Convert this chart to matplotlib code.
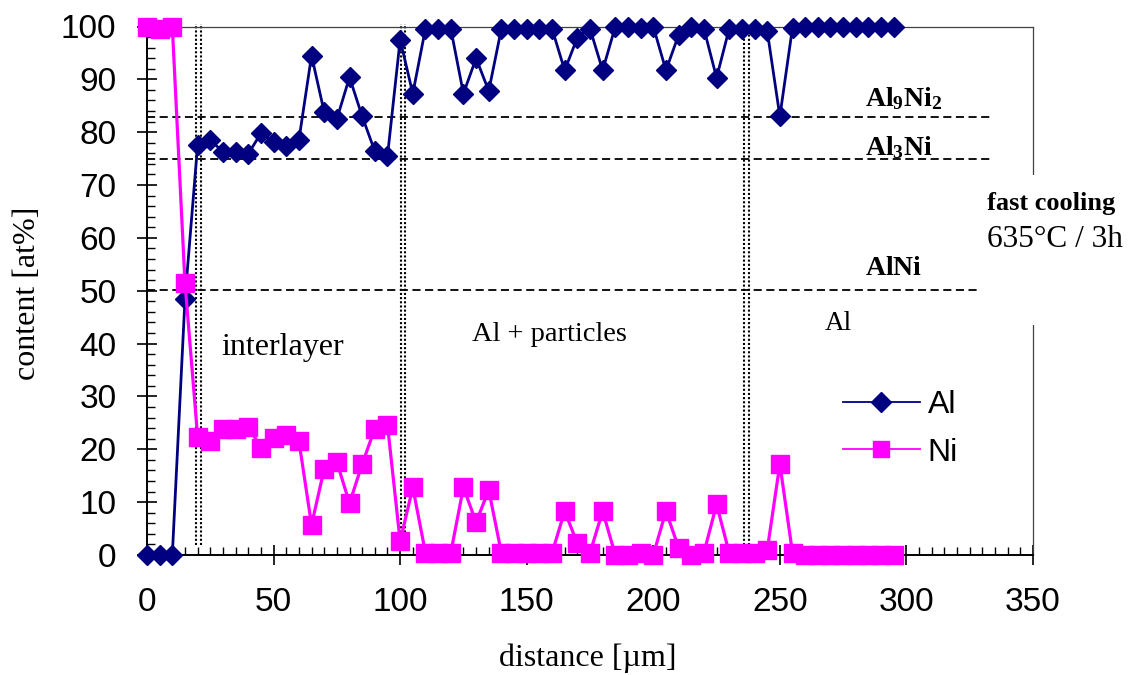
import matplotlib
matplotlib.use('Agg')
import matplotlib.pyplot as plt
from matplotlib.lines import Line2D
from matplotlib.patches import Rectangle
from matplotlib.ticker import MultipleLocator

plt.rcParams['font.family'] = ['Liberation Sans', 'DejaVu Sans']
plt.rcParams['mathtext.fontset'] = 'custom'
plt.rcParams['mathtext.rm'] = 'Liberation Serif'
plt.rcParams['mathtext.bf'] = 'Liberation Serif:bold'

# line scan, 5 um steps
distance = [0, 5, 10, 15, 20, 25, 30, 35, 40, 45, 50, 55, 60, 65, 70, 75, 80, 85, 90, 95,
            100, 105, 110, 115, 120, 125, 130, 135, 140, 145, 150, 155, 160, 165, 170, 175,
            180, 185, 190, 195, 200, 205, 210, 215, 220, 225, 230, 235, 240, 245, 250, 255,
            260, 265, 270, 275, 280, 285, 290, 295]
al = [0, 0, 0, 48.4, 77.6, 78.5, 76.3, 76.3, 75.9, 79.8, 78.1, 77.3, 78.5, 94.5, 83.8, 82.5,
      90.4, 83.0, 76.4, 75.5, 97.5, 87.3, 99.6, 99.6, 99.6, 87.3, 94.0, 87.8, 99.6, 99.6,
      99.6, 99.6, 99.6, 91.7, 97.9, 99.6, 91.7, 100, 99.9, 99.7, 100, 91.7, 98.4, 100, 99.6,
      90.3, 99.6, 99.6, 99.6, 99.2, 83.0, 99.8, 100, 100, 100, 100, 100, 100, 100, 100]
ni = [100, 99.5, 100, 51.5, 22.4, 21.5, 23.8, 23.8, 24.3, 20.3, 22.1, 22.8, 21.6, 5.7, 16.3,
      17.6, 9.8, 17.2, 23.9, 24.6, 2.6, 12.8, 0.4, 0.4, 0.4, 12.8, 6.2, 12.3, 0.4, 0.4, 0.4,
      0.4, 0.4, 8.3, 2.2, 0.4, 8.3, 0, 0, 0.4, 0, 8.3, 1.4, 0, 0.4, 9.6, 0.4, 0.4, 0.4, 0.9,
      17.2, 0.4, 0, 0, 0, 0, 0, 0, 0, 0]

# phase compositions (at% Al)
phase_names = [r'$\mathbf{Al_9Ni_2}$', r'$\mathbf{Al_3Ni}$', r'$\mathbf{AlNi}$']
phase_al = [82.8, 74.9, 50.1]
phase_label_y = [85.0, 75.6, 52.9]

# zone borders (pairs of dotted lines)
borders = [19.3, 21.4, 100.2, 102.1, 236.0, 238.0]

W, H = 1130, 675
fig = plt.figure(figsize=(W / 100, H / 100), dpi=100)
x0, x1, y0, y1 = 147, 1033, 555, 26.5
ax = fig.add_axes([x0 / W, 1 - y0 / H, (x1 - x0) / W, (y0 - y1) / H])

for b in borders:
    ax.plot([b, b], [1.8, 100.5], color='black', lw=1.5, ls=(0, (1, 1)),
            clip_on=False, zorder=2)
for v in phase_al:
    ax.plot([0, 333], [v, v], color='black', lw=1.3, ls=(0, (4.5, 2.5)), zorder=2)

ax.plot(distance, al, color='#000080', lw=2.0, marker='D', ms=10, mfc='#000080',
        mec='#000080', clip_on=False, zorder=4)
ax.plot(distance, ni, color='#FF00FF', lw=2.3, marker='s', ms=12.5, mfc='#FF00FF',
        mec='#FF00FF', clip_on=False, zorder=5)

ax.set_xlim(0, 350)
ax.set_ylim(0, 100)
ax.xaxis.set_major_locator(MultipleLocator(50))
ax.xaxis.set_minor_locator(MultipleLocator(5))
ax.yaxis.set_major_locator(MultipleLocator(10))
ax.yaxis.set_minor_locator(MultipleLocator(2))
ax.tick_params(which='major', direction='inout', length=14, width=1.2, labelsize=24)
ax.tick_params(which='minor', direction='in', length=6, width=1.0)
ax.tick_params(axis='y', which='major', pad=15)
ax.tick_params(axis='x', which='major', pad=16)
for s in ['left', 'bottom']:
    ax.spines[s].set_linewidth(1.4)
for s in ['top', 'right']:
    ax.spines[s].set_linewidth(0.9)
    ax.spines[s].set_color('#404040')

ax.set_xlabel('distance [µm]', family='Liberation Serif', fontsize=23)
ax.set_ylabel('content [at%]', family='Liberation Serif', fontsize=23)
ax.xaxis.set_label_coords(0.497, -0.168)
ax.yaxis.set_label_coords(-0.1185, 0.495)

serif = 'Liberation Serif'
ax.text(29.5, 37.8, 'interlayer', family=serif, fontsize=23)
ax.text(128.5, 40.4, 'Al + particles', family=serif, fontsize=20.5)
ax.text(267.9, 42.6, 'Al', family=serif, fontsize=19.5)
for name, yy in zip(phase_names, phase_label_y):
    ax.text(283.7, yy, name, fontsize=20)

handles = [Line2D([], [], color='#000080', lw=1.3, marker='D', ms=10, label='Al'),
           Line2D([], [], color='#FF00FF', lw=1.3, marker='s', ms=12, label='Ni')]
fig.legend(handles=handles, loc='upper left', bbox_to_anchor=(843 / W, 1 - 390 / H),
           frameon=False, fontsize=23, handlelength=2.4, handletextpad=0.25,
           labelspacing=0.55, borderpad=0, borderaxespad=0)

fig.patches.append(Rectangle((980 / W, 1 - 325 / H), 150 / W, 150 / H,
                             transform=fig.transFigure, facecolor='white',
                             edgecolor='none', zorder=2))
fig.text(987 / W, 1 - 210 / H, 'fast cooling', family=serif, fontweight='bold',
         fontsize=19, zorder=3)
fig.text(987 / W, 1 - 247 / H, '635°C / 3h', family=serif, fontsize=22.5, zorder=3)

fig.savefig('out.png', dpi=100)
